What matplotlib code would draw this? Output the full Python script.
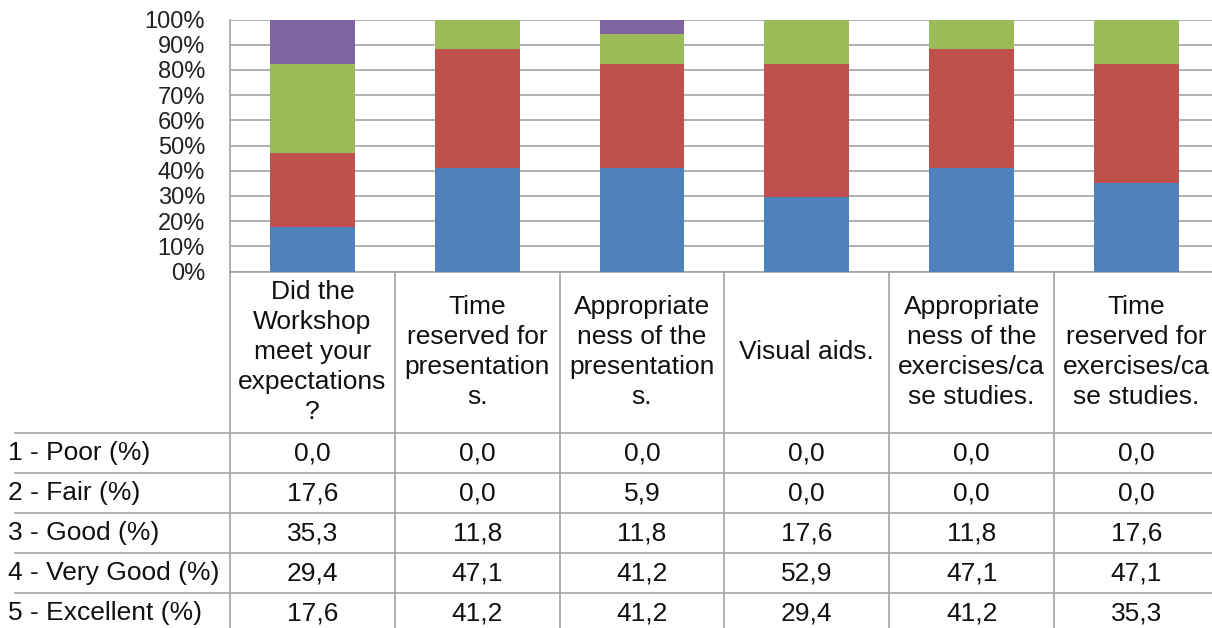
import matplotlib
matplotlib.use("Agg")
import matplotlib.pyplot as plt
import numpy as np
from matplotlib.transforms import blended_transform_factory

plt.rcParams['font.family'] = ['Liberation Sans', 'DejaVu Sans']

# Survey questions (column headers, wrapped as in the data table)
categories = [
    "Did the\nWorkshop\nmeet your\nexpectations\n?",
    "Time\nreserved for\npresentation\ns.",
    "Appropriate\nness of the\npresentation\ns.",
    "Visual aids.",
    "Appropriate\nness of the\nexercises/ca\nse studies.",
    "Time\nreserved for\nexercises/ca\nse studies.",
]

# Rating labels (table rows) and their percentages
row_labels = ["1 - Poor (%)", "2 - Fair (%)", "3 - Good (%)",
              "4 - Very Good (%)", "5 - Excellent (%)"]
poor = [0.0, 0.0, 0.0, 0.0, 0.0, 0.0]
fair = [17.6, 0.0, 5.9, 0.0, 0.0, 0.0]
good = [35.3, 11.8, 11.8, 17.6, 11.8, 17.6]
very_good = [29.4, 47.1, 41.2, 52.9, 47.1, 47.1]
excellent = [17.6, 41.2, 41.2, 29.4, 41.2, 35.3]

series = [poor, fair, good, very_good, excellent]
colors = ["#4BACC6", "#8064A2", "#9BBB59", "#C0504D", "#4F81BD"]

yticks = [0, 10, 20, 30, 40, 50, 60, 70, 80, 90, 100]

W, H = 1212, 628
fig = plt.figure(figsize=(W / 100, H / 100), dpi=100)

# Plot area in pixel units
left, top, bottom = 230, 19.5, 271.5
col_w = 164.8
n = len(categories)
ax = fig.add_axes([left / W, (H - bottom) / H, n * col_w / W, (bottom - top) / H])

x = np.arange(n)
data = np.array(series)
totals = data.sum(axis=0)
pct = data / totals * 100

# Stack from Excellent at the bottom up to Poor
base = np.zeros(n)
for k in range(len(series) - 1, -1, -1):
    ax.bar(x, pct[k], bottom=base, width=0.515, color=colors[k],
           edgecolor="none", zorder=3)
    base += pct[k]

grid_c = "#a3a3a3"
ax.set_xlim(-0.5, n - 0.5)
ax.set_ylim(0, 100)
ax.set_yticks(yticks)
ax.set_yticklabels([f"{t}%" for t in yticks], fontsize=17, color="#222222")
ax.tick_params(axis="y", length=0, pad=18)
ax.set_xticks([])
ax.yaxis.grid(True, color=grid_c, linewidth=1.2, zorder=0)
for s in ["top", "right"]:
    ax.spines[s].set_visible(False)
ax.spines["left"].set_color(grid_c)
ax.spines["left"].set_linewidth(1.2)
ax.spines["bottom"].set_color(grid_c)
ax.spines["bottom"].set_linewidth(1.2)

# Data table below the plot
tab = fig.add_axes([0, 0, 1, 1], zorder=5)
tab.set_xlim(0, W)
tab.set_ylim(H, 0)
tab.axis("off")
tr = blended_transform_factory(ax.transData, tab.transData)

header_bottom = 433
row_h = 40
n_rows = len(row_labels)

# vertical cell borders
for b in np.arange(-0.5, n + 0.5, 1.0):
    tab.plot([b, b], [bottom, H + 20], color=grid_c, lw=1.2,
             transform=tr, clip_on=False)
# horizontal row borders
for r in range(n_rows):
    y = header_bottom + r * row_h
    tab.plot([15, W + 20], [y, y], color=grid_c, lw=1.2, clip_on=False)

for i, cat in enumerate(categories):
    tab.text(i, (bottom + header_bottom) / 2, cat, transform=tr,
             ha="center", va="center", fontsize=19, linespacing=1.32,
             multialignment="center", color="#111111")

for r, (lab, vals) in enumerate(zip(row_labels, series)):
    yc = header_bottom + r * row_h + row_h / 2
    tab.text(8, yc, lab, ha="left", va="center", fontsize=19, color="#111111")
    for i, v in enumerate(vals):
        tab.text(i, yc, f"{v:.1f}".replace(".", ","), transform=tr,
                 ha="center", va="center", fontsize=19, color="#111111")

fig.savefig("out.png", dpi=100)
